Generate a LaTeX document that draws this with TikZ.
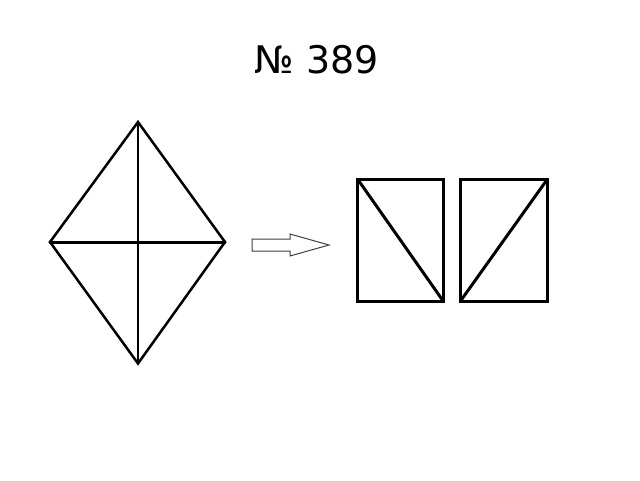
\documentclass[tikz,border=0pt]{standalone}
\usepackage{fontspec}
\setmainfont{DejaVu Sans}
\begin{document}
\begin{tikzpicture}[x=1pt,y=-1pt,
  fig/.style={line width=2.5pt,line join=miter,line cap=round},
  boxline/.style={line width=3pt,line join=miter},
  arrowshape/.style={line width=1pt,draw=black!75,fill=white,line join=miter}]
\useasboundingbox[fill=white] (0,0) rectangle (640,480);
\node[anchor=base,inner sep=0pt,font=\fontsize{38}{44}\selectfont] (title) at (317,73) {№ 389};
% rhombus
\coordinate (T) at (138,122);
\coordinate (B) at (138,363.5);
\coordinate (L) at (50,242);
\coordinate (R) at (225,242);
\draw[fig] (T) -- (R) -- (B) -- (L) -- cycle;
\draw[fig] (T) -- (B);
\draw[fig,line width=3pt] (L) -- (R);
% block arrow
\coordinate (a1) at (252,239);
\coordinate (a2) at (290,239);
\coordinate (a3) at (290,234);
\coordinate (a4) at (329,245);
\coordinate (a5) at (290,256);
\coordinate (a6) at (290,251);
\coordinate (a7) at (252,251);
\draw[arrowshape] (a1) -- (a2) -- (a3) -- (a4) -- (a5) -- (a6) -- (a7) -- cycle;
% left rectangle
\coordinate (p1) at (357.5,179);
\coordinate (p2) at (443.5,179);
\coordinate (p3) at (443.5,301.5);
\coordinate (p4) at (357.5,301.5);
\draw[boxline] (p1) -- (p2) -- (p3) -- (p4) -- cycle;
\draw[boxline] (p1) -- (p3);
% right rectangle
\coordinate (q1) at (460.5,179);
\coordinate (q2) at (547.5,179);
\coordinate (q3) at (547.5,301);
\coordinate (q4) at (460.5,301);
\draw[boxline] (q1) -- (q2) -- (q3) -- (q4) -- cycle;
\draw[boxline] (q4) -- (q2);
\end{tikzpicture}
\end{document}
